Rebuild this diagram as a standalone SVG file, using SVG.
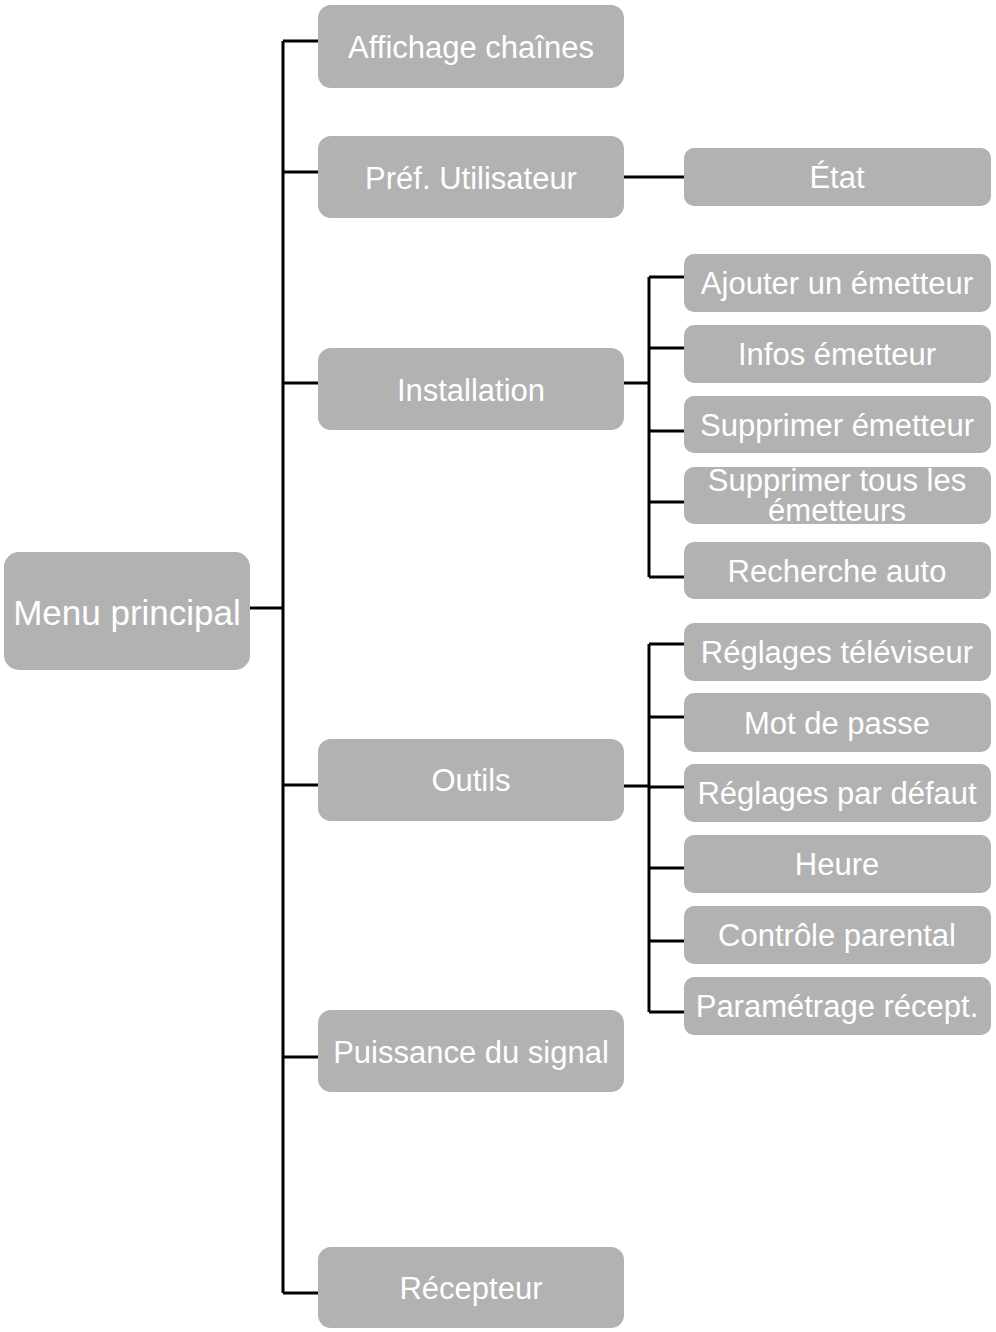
<svg xmlns="http://www.w3.org/2000/svg" width="996" height="1332" viewBox="0 0 996 1332">
<style>
.box{fill:#b2b2b2}
.t{font-family:"Liberation Sans",Arial,sans-serif;font-size:31px;fill:#fff;text-anchor:middle}
.c{fill:none;stroke:#000;stroke-width:3}
</style>
<rect width="996" height="1332" fill="#fff"/>
<g id="connectors">
<path class="c" d="M250,608 H283 M283,41 V1293 M283,41 H318 M283,172 H318 M283,383 H318 M283,785 H318 M283,1057 H318 M283,1293 H318"/>
<path class="c" d="M624,177 H684"/>
<path class="c" d="M624,383 H649 M649,277 V577 M649,277 H684 M649,348 H684 M649,431 H684 M649,502 H684 M649,577 H684"/>
<path class="c" d="M624,786 H649 M649,644 V1012 M649,644 H684 M649,717 H684 M649,787 H684 M649,868 H684 M649,941 H684 M649,1012 H684"/>
</g>
<g id="menu-principal"><rect class="box" x="4" y="552" width="246" height="118" rx="15"/><text class="t" x="127" y="625" style="font-size:35px">Menu principal</text></g>
<g id="affichage"><rect class="box" x="318" y="5" width="306" height="83" rx="13"/><text class="t" x="471" y="58">Affichage chaînes</text></g>
<g id="pref"><rect class="box" x="318" y="136" width="306" height="82" rx="13"/><text class="t" x="471" y="189">Préf. Utilisateur</text></g>
<g id="installation"><rect class="box" x="318" y="348" width="306" height="82" rx="13"/><text class="t" x="471" y="401">Installation</text></g>
<g id="outils"><rect class="box" x="318" y="739" width="306" height="82" rx="13"/><text class="t" x="471" y="791">Outils</text></g>
<g id="puissance"><rect class="box" x="318" y="1010" width="306" height="82" rx="13"/><text class="t" x="471" y="1063">Puissance du signal</text></g>
<g id="recepteur"><rect class="box" x="318" y="1247" width="306" height="81" rx="13"/><text class="t" x="471" y="1299">Récepteur</text></g>
<g id="etat"><rect class="box" x="684" y="148" width="307" height="58" rx="10"/><text class="t" x="837" y="188">État</text></g>
<g id="ajouter"><rect class="box" x="684" y="254" width="307" height="58" rx="10"/><text class="t" x="837" y="294">Ajouter un émetteur</text></g>
<g id="infos"><rect class="box" x="684" y="325" width="307" height="58" rx="10"/><text class="t" x="837" y="365">Infos émetteur</text></g>
<g id="supprimer"><rect class="box" x="684" y="396" width="307" height="57" rx="10"/><text class="t" x="837" y="436">Supprimer émetteur</text></g>
<g id="supprimer-tous"><rect class="box" x="684" y="467" width="307" height="57" rx="10"/><text class="t" x="837" y="491">Supprimer tous les<tspan x="837" dy="30">émetteurs</tspan></text></g>
<g id="recherche"><rect class="box" x="684" y="542" width="307" height="57" rx="10"/><text class="t" x="837" y="582">Recherche auto</text></g>
<g id="reglages-tv"><rect class="box" x="684" y="623" width="307" height="58" rx="10"/><text class="t" x="837" y="663">Réglages téléviseur</text></g>
<g id="mot-de-passe"><rect class="box" x="684" y="693" width="307" height="59" rx="10"/><text class="t" x="837" y="734">Mot de passe</text></g>
<g id="reglages-defaut"><rect class="box" x="684" y="764" width="307" height="58" rx="10"/><text class="t" x="837" y="804">Réglages par défaut</text></g>
<g id="heure"><rect class="box" x="684" y="835" width="307" height="58" rx="10"/><text class="t" x="837" y="875">Heure</text></g>
<g id="controle"><rect class="box" x="684" y="906" width="307" height="58" rx="10"/><text class="t" x="837" y="946">Contrôle parental</text></g>
<g id="parametrage"><rect class="box" x="684" y="977" width="307" height="58" rx="10"/><text class="t" x="837" y="1017">Paramétrage récept.</text></g>
</svg>
